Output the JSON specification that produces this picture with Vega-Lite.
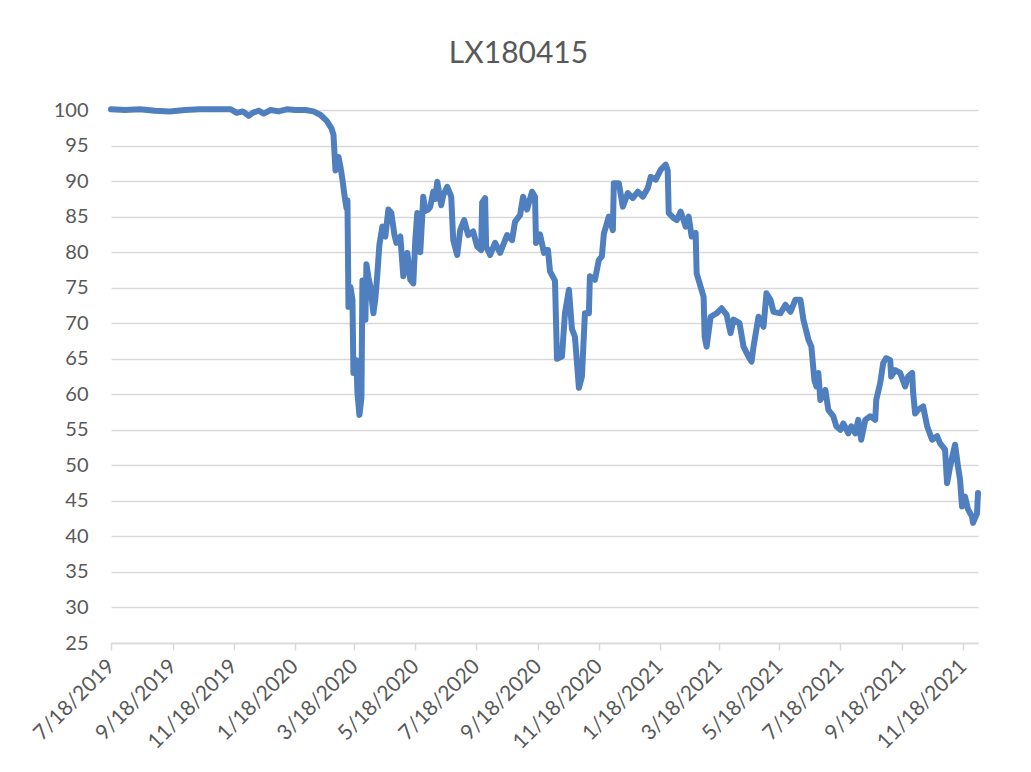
{
  "$schema": "https://vega.github.io/schema/vega-lite/v6.json",
  "width": 867,
  "height": 533,
  "autosize": {"type": "none"},
  "padding": {"left": 111, "top": 110, "right": 53, "bottom": 129},
  "background": "white",
  "config": {
    "view": {"stroke": null},
    "font": "Lato"
  },
  "title": {
    "text": "LX180415",
    "font": "Lato",
    "fontSize": 30,
    "fontWeight": "normal",
    "color": "#595959",
    "anchor": "middle",
    "frame": "group",
    "dx": -26,
    "offset": 31
  },
  "data": {
    "values": [
      {"date": "2019-07-18", "value": 100.1},
      {"date": "2019-08-01", "value": 100.0},
      {"date": "2019-08-16", "value": 100.1},
      {"date": "2019-08-31", "value": 99.9},
      {"date": "2019-09-15", "value": 99.8},
      {"date": "2019-09-30", "value": 100.0},
      {"date": "2019-10-15", "value": 100.1},
      {"date": "2019-10-31", "value": 100.1},
      {"date": "2019-11-15", "value": 100.1},
      {"date": "2019-11-21", "value": 99.6},
      {"date": "2019-11-27", "value": 99.8},
      {"date": "2019-12-03", "value": 99.2},
      {"date": "2019-12-07", "value": 99.6},
      {"date": "2019-12-13", "value": 99.9},
      {"date": "2019-12-18", "value": 99.5},
      {"date": "2019-12-25", "value": 100.0},
      {"date": "2020-01-02", "value": 99.8},
      {"date": "2020-01-10", "value": 100.1},
      {"date": "2020-01-19", "value": 100.0},
      {"date": "2020-01-29", "value": 100.0},
      {"date": "2020-02-06", "value": 99.8},
      {"date": "2020-02-13", "value": 99.3},
      {"date": "2020-02-19", "value": 98.5},
      {"date": "2020-02-24", "value": 97.4},
      {"date": "2020-02-26", "value": 96.5},
      {"date": "2020-02-28", "value": 91.5},
      {"date": "2020-03-01", "value": 92.5},
      {"date": "2020-03-02", "value": 93.4},
      {"date": "2020-03-04", "value": 92.0},
      {"date": "2020-03-06", "value": 90.2},
      {"date": "2020-03-08", "value": 88.0},
      {"date": "2020-03-10", "value": 86.2},
      {"date": "2020-03-11", "value": 87.3},
      {"date": "2020-03-12", "value": 72.3},
      {"date": "2020-03-14", "value": 75.1},
      {"date": "2020-03-16", "value": 73.3},
      {"date": "2020-03-17", "value": 63.0},
      {"date": "2020-03-20", "value": 64.8},
      {"date": "2020-03-21", "value": 60.2},
      {"date": "2020-03-23", "value": 57.1},
      {"date": "2020-03-25", "value": 59.5},
      {"date": "2020-03-26", "value": 76.0},
      {"date": "2020-03-28", "value": 72.0},
      {"date": "2020-03-29", "value": 70.5},
      {"date": "2020-03-30", "value": 78.3},
      {"date": "2020-04-01", "value": 76.5},
      {"date": "2020-04-03", "value": 75.1},
      {"date": "2020-04-06", "value": 71.4},
      {"date": "2020-04-08", "value": 73.5},
      {"date": "2020-04-10", "value": 77.0},
      {"date": "2020-04-12", "value": 81.0},
      {"date": "2020-04-15", "value": 83.6},
      {"date": "2020-04-16", "value": 82.5},
      {"date": "2020-04-18", "value": 82.2},
      {"date": "2020-04-21", "value": 86.0},
      {"date": "2020-04-24", "value": 85.5},
      {"date": "2020-04-27", "value": 82.5},
      {"date": "2020-04-29", "value": 81.3},
      {"date": "2020-05-03", "value": 82.2},
      {"date": "2020-05-06", "value": 76.6},
      {"date": "2020-05-10", "value": 79.9},
      {"date": "2020-05-13", "value": 76.1},
      {"date": "2020-05-16", "value": 75.6},
      {"date": "2020-05-18", "value": 81.7},
      {"date": "2020-05-20", "value": 85.5},
      {"date": "2020-05-22", "value": 84.0},
      {"date": "2020-05-23", "value": 80.0},
      {"date": "2020-05-26", "value": 87.8},
      {"date": "2020-05-28", "value": 85.8},
      {"date": "2020-05-31", "value": 86.0},
      {"date": "2020-06-02", "value": 86.4},
      {"date": "2020-06-05", "value": 88.5},
      {"date": "2020-06-07", "value": 87.5},
      {"date": "2020-06-09", "value": 89.9},
      {"date": "2020-06-13", "value": 86.6},
      {"date": "2020-06-15", "value": 88.0},
      {"date": "2020-06-19", "value": 89.2},
      {"date": "2020-06-23", "value": 87.8},
      {"date": "2020-06-25", "value": 81.7},
      {"date": "2020-06-29", "value": 79.6},
      {"date": "2020-07-02", "value": 83.1},
      {"date": "2020-07-06", "value": 84.5},
      {"date": "2020-07-10", "value": 82.4},
      {"date": "2020-07-15", "value": 82.9},
      {"date": "2020-07-19", "value": 80.8},
      {"date": "2020-07-23", "value": 80.3},
      {"date": "2020-07-24", "value": 87.0},
      {"date": "2020-07-27", "value": 87.6},
      {"date": "2020-07-28", "value": 80.8},
      {"date": "2020-08-01", "value": 79.6},
      {"date": "2020-08-06", "value": 81.3},
      {"date": "2020-08-11", "value": 79.9},
      {"date": "2020-08-18", "value": 82.4},
      {"date": "2020-08-23", "value": 81.7},
      {"date": "2020-08-26", "value": 84.3},
      {"date": "2020-08-31", "value": 85.2},
      {"date": "2020-09-03", "value": 87.8},
      {"date": "2020-09-07", "value": 86.0},
      {"date": "2020-09-12", "value": 88.5},
      {"date": "2020-09-15", "value": 87.8},
      {"date": "2020-09-16", "value": 81.3},
      {"date": "2020-09-20", "value": 82.5},
      {"date": "2020-09-24", "value": 79.9},
      {"date": "2020-09-26", "value": 80.3},
      {"date": "2020-09-28", "value": 80.3},
      {"date": "2020-09-30", "value": 77.3},
      {"date": "2020-10-05", "value": 76.0},
      {"date": "2020-10-07", "value": 65.0},
      {"date": "2020-10-12", "value": 65.3},
      {"date": "2020-10-15", "value": 71.4},
      {"date": "2020-10-19", "value": 74.7},
      {"date": "2020-10-22", "value": 69.2},
      {"date": "2020-10-25", "value": 68.1},
      {"date": "2020-10-29", "value": 60.9},
      {"date": "2020-11-01", "value": 62.5},
      {"date": "2020-11-04", "value": 71.4},
      {"date": "2020-11-08", "value": 71.4},
      {"date": "2020-11-09", "value": 76.6},
      {"date": "2020-11-14", "value": 76.1},
      {"date": "2020-11-18", "value": 78.9},
      {"date": "2020-11-21", "value": 79.4},
      {"date": "2020-11-23", "value": 82.6},
      {"date": "2020-11-28", "value": 85.0},
      {"date": "2020-12-02", "value": 83.1},
      {"date": "2020-12-03", "value": 89.7},
      {"date": "2020-12-08", "value": 89.7},
      {"date": "2020-12-12", "value": 86.4},
      {"date": "2020-12-17", "value": 88.3},
      {"date": "2020-12-22", "value": 87.6},
      {"date": "2020-12-27", "value": 88.5},
      {"date": "2021-01-01", "value": 87.8},
      {"date": "2021-01-06", "value": 89.0},
      {"date": "2021-01-09", "value": 90.6},
      {"date": "2021-01-14", "value": 90.2},
      {"date": "2021-01-19", "value": 91.6},
      {"date": "2021-01-24", "value": 92.3},
      {"date": "2021-01-26", "value": 91.5},
      {"date": "2021-01-27", "value": 85.5},
      {"date": "2021-02-01", "value": 84.8},
      {"date": "2021-02-04", "value": 84.5},
      {"date": "2021-02-08", "value": 85.7},
      {"date": "2021-02-13", "value": 83.6},
      {"date": "2021-02-16", "value": 85.0},
      {"date": "2021-02-19", "value": 82.2},
      {"date": "2021-02-23", "value": 82.7},
      {"date": "2021-02-24", "value": 77.0},
      {"date": "2021-02-28", "value": 75.1},
      {"date": "2021-03-03", "value": 73.7},
      {"date": "2021-03-04", "value": 68.1},
      {"date": "2021-03-06", "value": 66.7},
      {"date": "2021-03-10", "value": 70.9},
      {"date": "2021-03-16", "value": 71.4},
      {"date": "2021-03-21", "value": 72.1},
      {"date": "2021-03-26", "value": 71.2},
      {"date": "2021-03-30", "value": 68.6},
      {"date": "2021-04-02", "value": 70.5},
      {"date": "2021-04-08", "value": 70.0},
      {"date": "2021-04-12", "value": 66.7},
      {"date": "2021-04-17", "value": 65.3},
      {"date": "2021-04-20", "value": 64.6},
      {"date": "2021-04-22", "value": 66.7},
      {"date": "2021-04-27", "value": 70.9},
      {"date": "2021-05-02", "value": 69.5},
      {"date": "2021-05-05", "value": 74.2},
      {"date": "2021-05-09", "value": 73.3},
      {"date": "2021-05-12", "value": 71.6},
      {"date": "2021-05-19", "value": 71.4},
      {"date": "2021-05-24", "value": 72.6},
      {"date": "2021-05-29", "value": 71.6},
      {"date": "2021-06-03", "value": 73.3},
      {"date": "2021-06-08", "value": 73.3},
      {"date": "2021-06-11", "value": 70.5},
      {"date": "2021-06-16", "value": 67.7},
      {"date": "2021-06-19", "value": 66.7},
      {"date": "2021-06-22", "value": 62.0},
      {"date": "2021-06-24", "value": 61.1},
      {"date": "2021-06-26", "value": 63.0},
      {"date": "2021-06-28", "value": 59.2},
      {"date": "2021-07-03", "value": 60.6},
      {"date": "2021-07-06", "value": 57.8},
      {"date": "2021-07-11", "value": 56.9},
      {"date": "2021-07-14", "value": 55.5},
      {"date": "2021-07-18", "value": 55.0},
      {"date": "2021-07-21", "value": 55.9},
      {"date": "2021-07-26", "value": 54.5},
      {"date": "2021-07-29", "value": 55.5},
      {"date": "2021-08-02", "value": 54.5},
      {"date": "2021-08-05", "value": 56.4},
      {"date": "2021-08-08", "value": 53.6},
      {"date": "2021-08-12", "value": 56.4},
      {"date": "2021-08-17", "value": 56.9},
      {"date": "2021-08-22", "value": 56.4},
      {"date": "2021-08-23", "value": 59.2},
      {"date": "2021-08-27", "value": 61.6},
      {"date": "2021-08-30", "value": 64.4},
      {"date": "2021-09-02", "value": 65.1},
      {"date": "2021-09-06", "value": 64.8},
      {"date": "2021-09-07", "value": 62.5},
      {"date": "2021-09-11", "value": 63.4},
      {"date": "2021-09-16", "value": 63.0},
      {"date": "2021-09-21", "value": 61.1},
      {"date": "2021-09-24", "value": 62.5},
      {"date": "2021-09-28", "value": 63.0},
      {"date": "2021-09-29", "value": 60.2},
      {"date": "2021-10-01", "value": 57.3},
      {"date": "2021-10-04", "value": 57.8},
      {"date": "2021-10-09", "value": 58.3},
      {"date": "2021-10-13", "value": 55.5},
      {"date": "2021-10-18", "value": 53.6},
      {"date": "2021-10-23", "value": 54.1},
      {"date": "2021-10-26", "value": 53.1},
      {"date": "2021-10-31", "value": 52.2},
      {"date": "2021-11-02", "value": 47.5},
      {"date": "2021-11-05", "value": 49.8},
      {"date": "2021-11-10", "value": 52.9},
      {"date": "2021-11-13", "value": 49.8},
      {"date": "2021-11-15", "value": 48.0},
      {"date": "2021-11-17", "value": 44.2},
      {"date": "2021-11-20", "value": 45.6},
      {"date": "2021-11-23", "value": 43.8},
      {"date": "2021-11-27", "value": 42.8},
      {"date": "2021-11-28", "value": 41.9},
      {"date": "2021-12-02", "value": 43.2},
      {"date": "2021-12-03", "value": 46.1}
    ]
  },
  "mark": {
    "type": "line",
    "color": "#4F7FBF",
    "strokeWidth": 6,
    "strokeJoin": "round",
    "strokeCap": "round",
    "clip": false
  },
  "encoding": {
    "x": {
      "field": "date",
      "type": "temporal",
      "scale": {
        "type": "utc",
        "domain": [
          {"year": 2019, "month": 7, "date": 18, "utc": true},
          {"year": 2021, "month": 12, "date": 3, "utc": true}
        ]
      },
      "axis": {
        "title": null,
        "values": [
          {"year": 2019, "month": 7, "date": 18, "utc": true},
          {"year": 2019, "month": 9, "date": 18, "utc": true},
          {"year": 2019, "month": 11, "date": 18, "utc": true},
          {"year": 2020, "month": 1, "date": 18, "utc": true},
          {"year": 2020, "month": 3, "date": 18, "utc": true},
          {"year": 2020, "month": 5, "date": 18, "utc": true},
          {"year": 2020, "month": 7, "date": 18, "utc": true},
          {"year": 2020, "month": 9, "date": 18, "utc": true},
          {"year": 2020, "month": 11, "date": 18, "utc": true},
          {"year": 2021, "month": 1, "date": 18, "utc": true},
          {"year": 2021, "month": 3, "date": 18, "utc": true},
          {"year": 2021, "month": 5, "date": 18, "utc": true},
          {"year": 2021, "month": 7, "date": 18, "utc": true},
          {"year": 2021, "month": 9, "date": 18, "utc": true},
          {"year": 2021, "month": 11, "date": 18, "utc": true}
        ],
        "format": "%-m/%-d/%Y",
        "labelAngle": -45,
        "labelAlign": "right",
        "labelBaseline": "middle",
        "labelFont": "Lato",
        "labelFontSize": 21,
        "labelColor": "#595959",
        "labelPadding": 13,
        "labelOverlap": false,
        "labelBound": false,
        "labelFlush": false,
        "grid": false,
        "domainColor": "#D9D9D9",
        "domainWidth": 1.5,
        "tickColor": "#D9D9D9",
        "tickWidth": 1.5,
        "tickSize": 7
      }
    },
    "y": {
      "field": "value",
      "type": "quantitative",
      "scale": {"domain": [25, 100], "nice": false, "zero": false},
      "axis": {
        "title": null,
        "values": [25, 30, 35, 40, 45, 50, 55, 60, 65, 70, 75, 80, 85, 90, 95, 100],
        "labelFont": "Lato",
        "labelFontSize": 20,
        "labelColor": "#595959",
        "labelPadding": 23,
        "ticks": false,
        "domain": false,
        "grid": true,
        "gridColor": "#D9D9D9",
        "gridWidth": 1.5,
        "labelOverlap": false,
        "labelBound": false,
        "labelFlush": false
      }
    }
  }
}
